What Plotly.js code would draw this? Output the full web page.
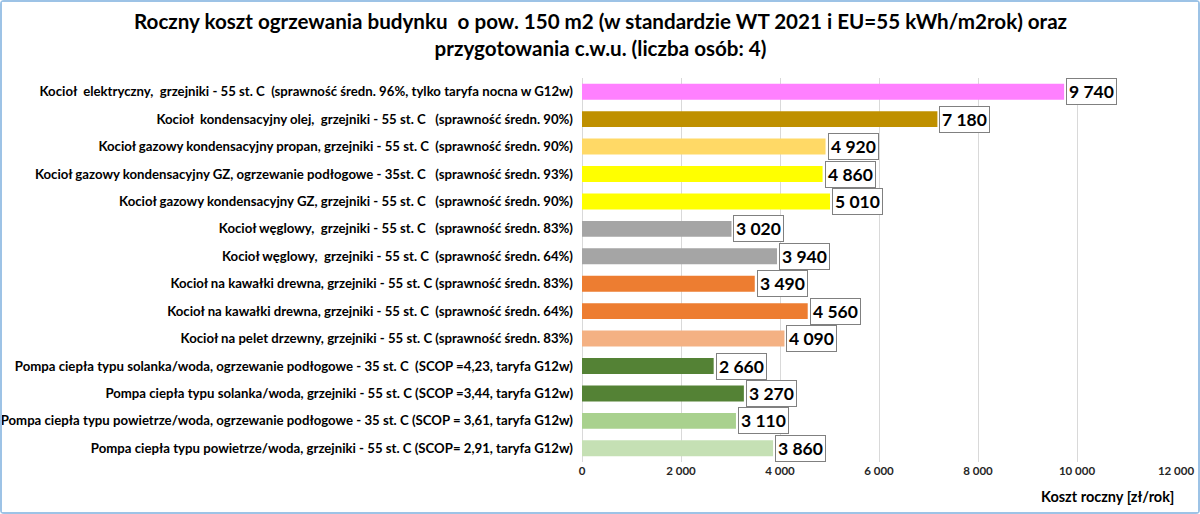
<!DOCTYPE html>
<html>
<head>
<meta charset="utf-8">
<script src="https://cdn.plot.ly/plotly-3.0.1.min.js"></script>
<style>
  html, body { margin: 0; padding: 0; background: #fff; }
  #chart { width: 1196px; height: 510px; border: 2px solid #9DC3E6; border-radius: 4px; }
</style>
</head>
<body>
<div id="chart"></div>
<script>
// heating options, top to bottom
const categories = [
    'Kocioł  elektryczny,  grzejniki - 55 st. C  (sprawność średn. 96%, tylko taryfa nocna w G12w)',
    'Kocioł  kondensacyjny olej,  grzejniki - 55 st. C   (sprawność średn. 90%)',
    'Kocioł gazowy kondensacyjny propan, grzejniki - 55 st. C  (sprawność średn. 90%)',
    'Kocioł gazowy kondensacyjny GZ, ogrzewanie podłogowe - 35st. C   (sprawność średn. 93%)',
    'Kocioł gazowy kondensacyjny GZ, grzejniki - 55 st. C   (sprawność średn. 90%)',
    'Kocioł węglowy,  grzejniki - 55 st. C   (sprawność średn. 83%)',
    'Kocioł węglowy,  grzejniki - 55 st. C  (sprawność średn. 64%)',
    'Kocioł na kawałki drewna, grzejniki - 55 st. C (sprawność średn. 83%)',
    'Kocioł na kawałki drewna, grzejniki - 55 st. C  (sprawność średn. 64%)',
    'Kocioł na pelet drzewny, grzejniki - 55 st. C (sprawność średn. 83%)',
    'Pompa ciepła typu solanka/woda, ogrzewanie podłogowe - 35 st. C  (SCOP =4,23, taryfa G12w)',
    'Pompa ciepła typu solanka/woda, grzejniki - 55 st. C (SCOP =3,44, taryfa G12w)',
    'Pompa ciepła typu powietrze/woda, ogrzewanie podłogowe - 35 st. C (SCOP = 3,61, taryfa G12w)',
    'Pompa ciepła typu powietrze/woda, grzejniki - 55 st. C (SCOP= 2,91, taryfa G12w)'
];
const costs = [9740, 7180, 4920, 4860, 5010, 3020, 3940, 3490, 4560, 4090, 2660, 3270, 3110, 3860];
const barColors = ['#FF80FF', '#BF9000', '#FFD966', '#FFFF00', '#FFFF00', '#A5A5A5', '#A5A5A5',
    '#ED7D31', '#ED7D31', '#F4B183', '#548235', '#548235', '#A9D18E', '#C5E0B4'];
const tickVals = [0, 2000, 4000, 6000, 8000, 10000, 12000];
const tickText = ['0', '2 000', '4 000', '6 000', '8 000', '10 000', '12 000'];
const chartTitle = 'Roczny koszt ogrzewania budynku  o pow. 150 m2 (w standardzie WT 2021 i EU=55 kWh/m2rok) oraz<br>przygotowania c.w.u. (liczba osób: 4)';

const FONT = 'Lato, "Open Sans", sans-serif';
const W = 1196, ML = 580, MR = 22;

function fmt(v) {
    return String(v).replace(/\B(?=(\d{3})+(?!\d))/g, ' ');
}

const data = [{
    type: 'bar',
    orientation: 'h',
    x: costs,
    y: categories,
    marker: { color: barColors },
    hoverinfo: 'x+y'
}];

// boxed value labels at the end of each bar
const labels = costs.map((v, i) => ({
    x: v, y: categories[i], xref: 'x', yref: 'y',
    text: fmt(v), showarrow: false,
    xanchor: 'left', xshift: 2,
    font: { family: FONT, size: 17.5, color: '#000', weight: 'bold' },
    bgcolor: '#fff', bordercolor: '#808080', borderwidth: 1, borderpad: 2
}));

labels.push({
    x: 1, y: 0, xref: 'paper', yref: 'paper',
    xanchor: 'right', yanchor: 'top', yshift: -24, xshift: 0,
    text: 'Koszt roczny [zł/rok]', showarrow: false,
    font: { family: FONT, size: 14.5, color: '#000', weight: 'bold' }
});

// title as an annotation, centred on the page
labels.push({
    x: (W / 2 - ML) / (W - ML - MR), y: 1, xref: 'paper', yref: 'paper',
    xanchor: 'center', yanchor: 'bottom', yshift: 16,
    text: chartTitle, showarrow: false,
    font: { family: FONT, size: 20.6, color: '#000', weight: 'bold' }
});

const layout = {
    width: W,
    height: 510,
    margin: { l: ML, r: MR, t: 76, b: 50 },
    paper_bgcolor: '#fff',
    plot_bgcolor: '#fff',
    showlegend: false,
    bargap: 0.42,
    font: { family: FONT, color: '#000' },
    xaxis: {
        range: [0, 12000],
        tickvals: tickVals,
        ticktext: tickText,
        showgrid: true,
        gridcolor: '#D9D9D9',
        zeroline: true,
        zerolinecolor: '#D9D9D9',
        ticks: '',
        ticklabeloverflow: 'allow',
        tickfont: { family: FONT, size: 11.5, color: '#262626', weight: 'bold' }
    },
    yaxis: {
        autorange: 'reversed',
        ticks: '',
        ticklabelstandoff: 8,
        tickfont: { family: FONT, size: 13.2, color: '#000', weight: 'bold' }
    },
    annotations: labels
};

Plotly.newPlot('chart', data, layout, { displayModeBar: false });
</script>
</body>
</html>
